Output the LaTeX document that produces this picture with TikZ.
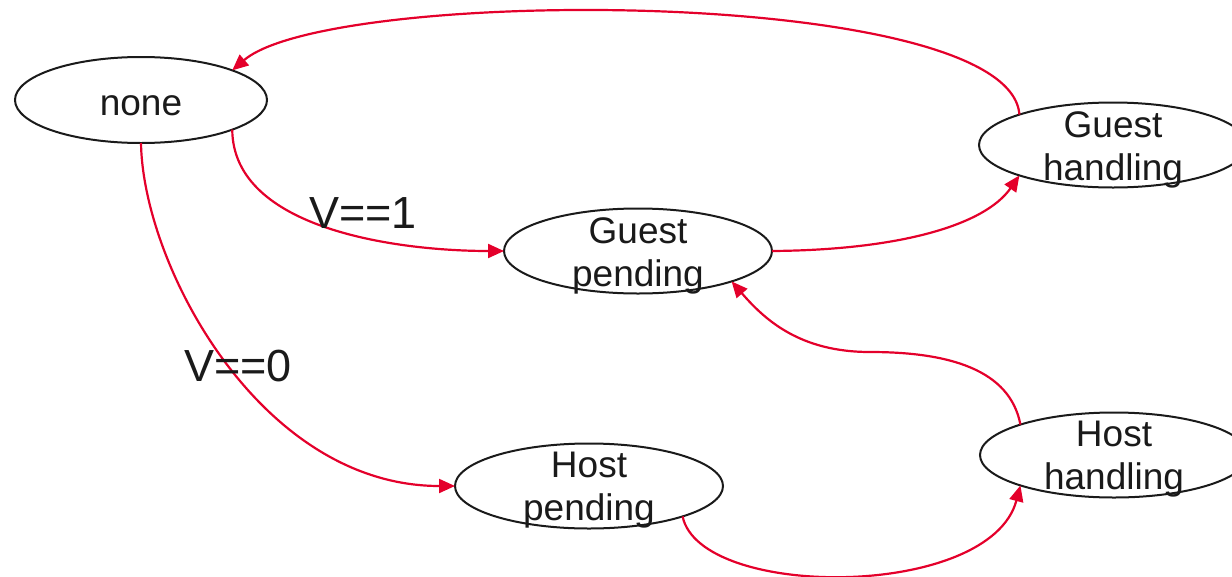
\documentclass[tikz,border=0pt]{standalone}
\usepackage{fontspec}
\setmainfont{Liberation Sans}
\usetikzlibrary{shapes.geometric,arrows.meta}
\definecolor{edgered}{RGB}{228,0,43}
\definecolor{ink}{RGB}{26,26,26}
\tikzset{
  state/.style={ellipse, draw=ink, line width=2pt, inner sep=0pt, outer sep=0pt,
    minimum width=268pt, minimum height=85pt},
  statetext/.style={text=ink, align=center, inner sep=0pt, yshift=-4.5pt,
    font=\fontsize{37}{43}\selectfont},
  cond/.style={text=ink, inner sep=0pt, font=\fontsize{45}{50}\selectfont},
  trans/.style={draw=edgered, line width=2.2pt,
    -{Triangle[length=16pt,width=14pt]}},
}
\begin{document}
\begin{tikzpicture}[x=1pt,y=-1pt]
  \useasboundingbox (0,0) rectangle (1232,576);

  % states
  \node[state, minimum width=252pt, minimum height=86pt,
        label={[statetext, yshift=-1.5pt]center:none}] (none) at (141,100) {};
  \node[state, label={[statetext]center:Guest\\pending}] (gp) at (638,251) {};
  \node[state, label={[statetext]center:Guest\\handling}] (gh) at (1113,145) {};
  \node[state, label={[statetext]center:Host\\pending}] (hp) at (589,486) {};
  \node[state, label={[statetext]center:Host\\handling}] (hh) at (1114,455) {};

  % transitions
  \draw[trans] (none.-18) .. controls (233,230) and (400,251) .. (gp.west);
  \draw[trans] (none.south) .. controls (143,265) and (260,486) .. (hp.west);
  \draw[trans] (gp.east) .. controls (900,250) and (985,225) .. (gh.-162);
  \draw[trans] (gh.162) .. controls (1010,-14) and (330,-14) .. (none.18);
  \draw[trans] (hp.-18) .. controls (700,600) and (990,600) .. (hh.-162);
  \draw[trans] (hh.162) .. controls (1010,370) and (950,352) .. (870,352)
                        .. controls (800,352) and (765,320) .. (gp.-18);

  % guard labels
  \node[cond] (v1) at (363,213) {V==1};
  \node[cond] (v0) at (238,366) {V==0};
\end{tikzpicture}
\end{document}
